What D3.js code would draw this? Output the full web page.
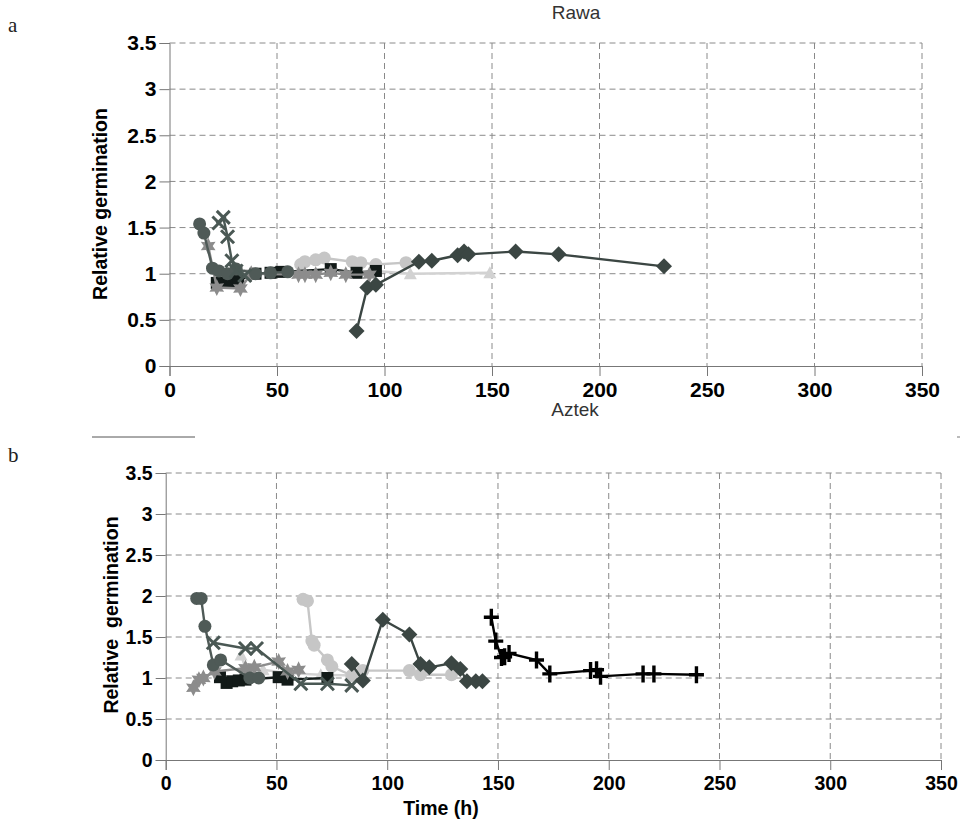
<!DOCTYPE html>
<html>
<head>
<meta charset="utf-8">
<title>Rawa / Aztek relative germination</title>
<script src="https://cdn.jsdelivr.net/npm/d3@7"></script>
<style>
  body { margin: 0; background: #fff; }
  text { font-family: "Liberation Sans", Arial, sans-serif; }
</style>
</head>
<body>
<script>
var width = 963, height = 823;

// axis ticks
var xTicks = [0, 50, 100, 150, 200, 250, 300, 350];
var yTicks = [0, 0.5, 1, 1.5, 2, 2.5, 3, 3.5];

// Rawa (panel a)  [time h, relative germination]
var rawaCircle = [[14,1.54],[16,1.44],[20,1.06],[23,1.03],[27,1.0],[31,1.05],[40,1.0],[47,1.01],[55,1.02]];
var rawaCross = [[23,1.55],[25,1.61],[27,1.40],[29,1.14],[31,1.03],[35,0.98]];
var rawaStar = [[18,1.3],[22,0.85],[33,0.84],[38,1.0],[60,0.99],[63,0.99],[68,0.99],[75,1.01],[82,0.99],[93,0.99]];
var rawaSquare = [[22,0.9],[25,0.9],[28,0.92],[32,0.93],[40,1.0],[47,1.01],[52,1.02],[75,1.05],[87,1.01],[96,1.03]];
var rawaLightCircle = [[61,1.1],[63,1.13],[68,1.15],[72,1.17],[85,1.13],[89,1.12],[96,1.1],[110,1.12]];
var rawaTriangle = [[96,1.03],[112,1.0],[149,1.01]];
var rawaDiamond = [[87,0.38],[92,0.85],[96,0.88],[116,1.13],[122,1.14],[134,1.2],[137,1.24],[139,1.21],[161,1.24],[181,1.21],[230,1.08]];

// Aztek (panel b)
var aztekCircle = [[14,1.97],[16,1.97],[17.7,1.63],[21.5,1.16],[24.8,1.22],[38,1.0],[42,1.0]];
var aztekCross = [[21.5,1.43],[36,1.36],[41,1.36],[61,0.93],[73,0.93],[84,0.91]];
var aztekStar = [[12.5,0.88],[15,0.98],[17,1.0],[22,1.08],[36,1.12],[40,1.13],[51,1.2],[55,1.08],[60,1.1]];
var aztekSquare = [[24.5,1.01],[27.5,0.94],[30,0.96],[33,0.97],[36,0.98],[51,1.01],[55,0.98],[73,1.0]];
var aztekLightCircle = [[62,1.96],[64,1.94],[66,1.45],[67,1.4],[73,1.22],[75,1.14],[84,1.03],[89,1.09],[110,1.09],[115,1.04],[129,1.04]];
var aztekTriangle = [[34,1.28],[36,1.12],[44,1.1],[55,1.06],[70,1.04],[85,1.03]];
var aztekDiamond = [[84,1.17],[89,0.97],[98,1.71],[110,1.53],[115,1.17],[119,1.13],[129,1.18],[133,1.11],[136,0.96],[140,0.96],[143,0.96]];
var aztekPlus = [[147,1.74],[149,1.45],[151.6,1.25],[153,1.26],[155,1.3],[167.4,1.22],[173.4,1.05],[191.8,1.09],[194.5,1.1],[196.3,1.02],[215.5,1.05],[220.4,1.05],[239.6,1.04]];

var svg = d3.select("body").append("svg")
    .attr("width", width).attr("height", height);

// marker shapes
var shapes = {
  circle: function(g){ g.append("circle").attr("r", 6.5); },
  square: function(g){ g.append("rect").attr("x", -6).attr("y", -6).attr("width", 12).attr("height", 12); },
  diamond: function(g){ g.append("path").attr("d", "M0,-8L8,0L0,8L-8,0Z"); },
  triangle: function(g){ g.append("path").attr("d", "M0,-6.5L6.5,5.5L-6.5,5.5Z"); },
  star: function(g){
    var pts = [];
    for (var i = 0; i < 12; i++) {
      var r = i % 2 == 0 ? 8.5 : 4.5;
      var a = Math.PI / 6 * i - Math.PI / 2;
      pts.push([r * Math.cos(a), r * Math.sin(a)]);
    }
    g.append("path").attr("d", d3.line()(pts) + "Z");
  },
  cross: function(g, c){
    g.append("path").attr("d", "M-6.5,-6.5L6.5,6.5M-6.5,6.5L6.5,-6.5")
      .attr("stroke", c).attr("stroke-width", 3).attr("fill", "none");
  },
  plus: function(g, c){
    g.append("path").attr("d", "M-7.5,0L7.5,0M0,-8.5L0,8.5")
      .attr("stroke", c).attr("stroke-width", 3.4).attr("fill", "none");
  }
};

function drawPanel(cfg) {
  var x = d3.scaleLinear().domain([0, 350]).range([cfg.left, cfg.right]);
  var y = d3.scaleLinear().domain([0, 3.5]).range([cfg.bottom, cfg.top]);
  var g = svg.append("g");

  // gridlines
  g.selectAll(".hgrid").data(yTicks.slice(1)).enter().append("line")
    .attr("x1", cfg.left).attr("x2", cfg.right)
    .attr("y1", function(d){ return y(d); }).attr("y2", function(d){ return y(d); })
    .attr("stroke", "#8a8a8a").attr("stroke-width", 1).attr("stroke-dasharray", "6,4");
  g.selectAll(".vgrid").data(xTicks.slice(1)).enter().append("line")
    .attr("x1", function(d){ return x(d); }).attr("x2", function(d){ return x(d); })
    .attr("y1", cfg.top).attr("y2", cfg.bottom)
    .attr("stroke", "#8a8a8a").attr("stroke-width", 1).attr("stroke-dasharray", "6,4");

  // axes
  var ya = g.append("g").attr("transform", "translate(" + cfg.left + ",0)")
    .call(d3.axisLeft(y).tickValues(yTicks).tickSize(10).tickPadding(3)
      .tickFormat(function(d){ return d; }));
  var xa = g.append("g").attr("transform", "translate(0," + cfg.bottom + ")")
    .call(d3.axisBottom(x).tickValues(xTicks).tickSize(10).tickPadding(6));
  [ya, xa].forEach(function(a){
    a.select(".domain").attr("stroke", "#777");
    a.selectAll(".tick line").attr("stroke", "#777");
    a.selectAll("text").attr("font-family", "Liberation Sans, Arial, sans-serif")
      .attr("font-weight", "bold").attr("fill", "#000");
  });
  ya.selectAll("text").attr("font-size", cfg.yFont);
  xa.selectAll("text").attr("font-size", cfg.xFont);

  // series
  var line = d3.line().x(function(d){ return x(d[0]); }).y(function(d){ return y(d[1]); });
  cfg.series.forEach(function(s){
    g.append("path").datum(s.data).attr("d", line)
      .attr("fill", "none").attr("stroke", s.color).attr("stroke-width", 2.4);
    g.append("g").selectAll("g").data(s.data).enter().append("g")
      .attr("transform", function(d){ return "translate(" + x(d[0]) + "," + y(d[1]) + ")"; })
      .attr("fill", s.color)
      .each(function(){ shapes[s.shape](d3.select(this), s.color); });
  });

  // titles
  g.append("text").attr("x", cfg.titleX).attr("y", cfg.titleY).attr("text-anchor", "middle")
    .attr("font-size", 19).attr("fill", "#333").text(cfg.title);
  g.append("text").attr("transform", "translate(" + cfg.yLabelX + "," + cfg.yLabelY + ") rotate(-90)")
    .attr("text-anchor", "middle").attr("font-size", 19.5).attr("font-weight", "bold")
    .attr("xml:space", "preserve").style("white-space", "pre").text(cfg.yLabel);
  g.append("text").attr("x", 8).attr("y", cfg.letterY)
    .style("font-family", "'Liberation Serif', serif")
    .attr("font-size", 21).attr("fill", "#222").text(cfg.letter);
}

drawPanel({
  left: 169.5, right: 922, top: 43, bottom: 366,
  xFont: 21, yFont: 21,
  title: "Rawa", titleX: 576, titleY: 19,
  yLabel: "Relative germination", yLabelX: 107, yLabelY: 204,
  letter: "a", letterY: 32,
  series: [
    {data: rawaTriangle, shape: "triangle", color: "#d2d2d2"},
    {data: rawaLightCircle, shape: "circle", color: "#c6c6c6"},
    {data: rawaSquare, shape: "square", color: "#121a18"},
    {data: rawaStar, shape: "star", color: "#8c8c8c"},
    {data: rawaCircle, shape: "circle", color: "#4f5a57"},
    {data: rawaCross, shape: "cross", color: "#4a5854"},
    {data: rawaDiamond, shape: "diamond", color: "#3b4643"}
  ]
});

drawPanel({
  left: 165.7, right: 941, top: 473, bottom: 760,
  xFont: 19.5, yFont: 19.5,
  title: "Aztek", titleX: 575, titleY: 416,
  yLabel: "Relative  germination", yLabelX: 118, yLabelY: 615,
  letter: "b", letterY: 462,
  series: [
    {data: aztekTriangle, shape: "triangle", color: "#d2d2d2"},
    {data: aztekLightCircle, shape: "circle", color: "#c6c6c6"},
    {data: aztekSquare, shape: "square", color: "#121a18"},
    {data: aztekStar, shape: "star", color: "#8c8c8c"},
    {data: aztekCircle, shape: "circle", color: "#4f5a57"},
    {data: aztekCross, shape: "cross", color: "#4a5854"},
    {data: aztekDiamond, shape: "diamond", color: "#3b4643"},
    {data: aztekPlus, shape: "plus", color: "#000"}
  ]
});

// x axis title
svg.append("text").attr("x", 441).attr("y", 815).attr("text-anchor", "middle")
  .attr("font-size", 19.5).attr("font-weight", "bold").text("Time (h)");

// separator line between panels
svg.append("line").attr("x1", 92).attr("x2", 195).attr("y1", 437).attr("y2", 437)
  .attr("stroke", "#555").attr("stroke-width", 1);
svg.append("line").attr("x1", 957).attr("x2", 960).attr("y1", 437).attr("y2", 437)
  .attr("stroke", "#777").attr("stroke-width", 1);
</script>
</body>
</html>
